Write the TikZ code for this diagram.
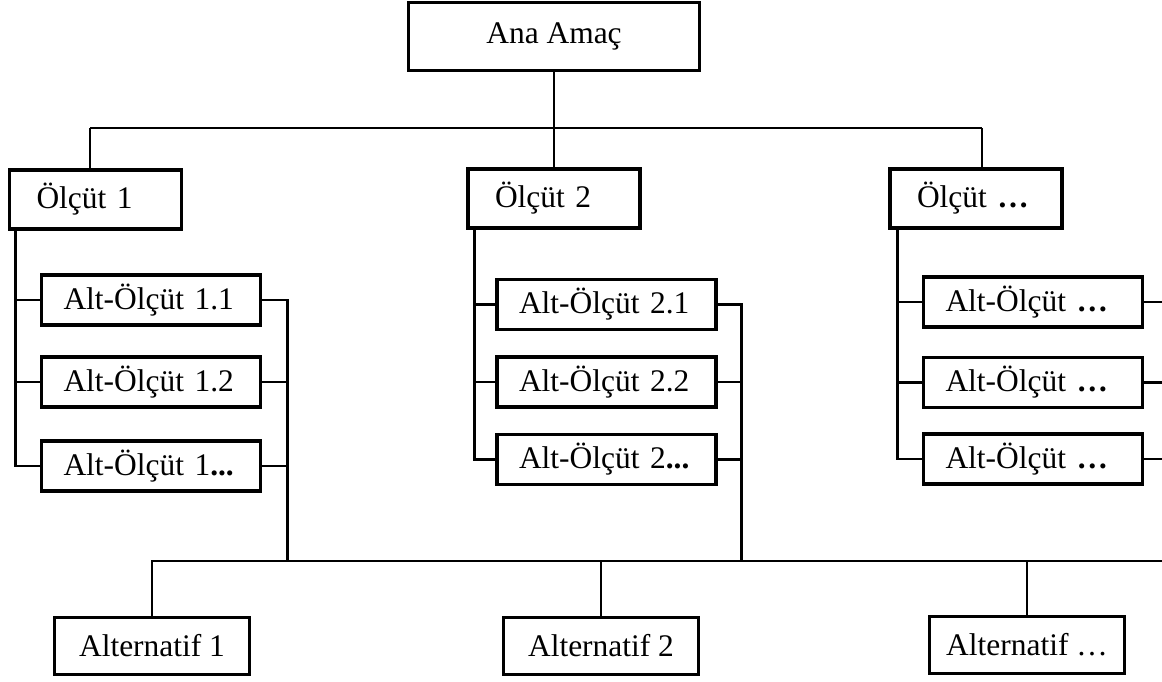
\documentclass[tikz,border=0pt]{standalone}
\usepackage{fontspec}
\setmainfont{Liberation Serif}
\usepackage{tikz}
\usetikzlibrary{positioning,calc}

\begin{document}
\begin{tikzpicture}[
  box/.style={rectangle, draw, line width=2pt, inner sep=0pt, font=\fontsize{17.9}{20}\selectfont},
  goalbox/.style={box, minimum width=5.82cm, minimum height=1.36cm, align=center},
  critbox/.style={box, minimum height=1.18cm, text width=2.36cm, inner xsep=0.54cm, align=left},
  subbox/.style={box, minimum height=1.0cm, text width=3.5cm, inner xsep=0.44cm, align=left},
  altbox/.style={box, minimum width=3.9cm, minimum height=1.14cm, align=center},
  line/.style={line width=1.5pt}
]
\useasboundingbox (0,0) rectangle (23.24,-13.62);

% Top: main goal
\node[goalbox] (goal) at (11.08,-0.73) {Ana Amaç};

% Criteria
\node[critbox] (c1) at (1.91,-3.99) {Ölçüt 1};
\node[critbox] (c2) at (11.08,-3.97) {Ölçüt 2};
\node[critbox] (c3) at (19.52,-3.97) {Ölçüt \textbf{…}};
\coordinate (busL) at (1.80,-2.56);
\coordinate (busR) at (19.64,-2.56);
\draw[line] (busL) -- (busR);
\draw[line] (goal.south) -- (c2.north);
\draw[line] (busL) -- (busL |- c1.north);
\draw[line] (busR) -- (busR |- c3.north);

% Sub-criteria
\node[subbox] (s11) at (3.02,-6.00) {Alt-Ölçüt 1.1};
\node[subbox] (s12) at (3.02,-7.64) {Alt-Ölçüt 1.2};
\node[subbox] (s13) at (3.02,-9.32) {Alt-Ölçüt 1\textbf{...}};
\node[subbox] (s21) at (12.13,-6.09) {Alt-Ölçüt 2.1};
\node[subbox] (s22) at (12.13,-7.64) {Alt-Ölçüt 2.2};
\node[subbox] (s23) at (12.13,-9.19) {Alt-Ölçüt 2\textbf{...}};
\node[subbox] (s31) at (20.66,-6.04) {Alt-Ölçüt \textbf{…}};
\node[subbox] (s32) at (20.66,-7.65) {Alt-Ölçüt \textbf{…}};
\node[subbox] (s33) at (20.66,-9.18) {Alt-Ölçüt \textbf{…}};

% Left spines
\coordinate (l1) at ([xshift=0.16cm]c1.south west);
\coordinate (l2) at ([xshift=0.16cm]c2.south west);
\coordinate (l3) at ([xshift=0.18cm]c3.south west);
\draw[line] (l1) |- (s13.west);
\draw[line] (s11.west) -- (s11.west -| l1);
\draw[line] (s12.west) -- (s12.west -| l1);
\draw[line] (l2) |- (s23.west);
\draw[line] (s21.west) -- (s21.west -| l2);
\draw[line] (s22.west) -- (s22.west -| l2);
\draw[line] (l3) |- (s33.west);
\draw[line] (s31.west) -- (s31.west -| l3);
\draw[line] (s32.west) -- (s32.west -| l3);

% Alternatives
\node[altbox] (a1) at (3.04,-12.92) {Alternatif 1};
\node[altbox] (a2) at (12.02,-12.92) {Alternatif 2};
\node[altbox] (a3) at (20.54,-12.90) {Alternatif …};
\coordinate (botR) at (23.24,-11.22);
\draw[line] (a1.north) |- (botR);
\draw[line] (a2.north) -- (a2.north |- botR);
\draw[line] (a3.north) -- (a3.north |- botR);

% Right spines
\coordinate (r1) at ([xshift=0.5cm]s11.east);
\coordinate (r2) at ([xshift=0.48cm]s21.east);
\draw[line] (s11.east) -- (r1) -- (r1 |- botR);
\draw[line] (s12.east) -- (s12.east -| r1);
\draw[line] (s13.east) -- (s13.east -| r1);
\draw[line] (s21.east) -- (r2) -- (r2 |- botR);
\draw[line] (s22.east) -- (s22.east -| r2);
\draw[line] (s23.east) -- (s23.east -| r2);
\draw[line] (s31.east) -- (s31.east -| botR);
\draw[line] (s32.east) -- (s32.east -| botR);
\draw[line] (s33.east) -- (s33.east -| botR);

\end{tikzpicture}
\end{document}
